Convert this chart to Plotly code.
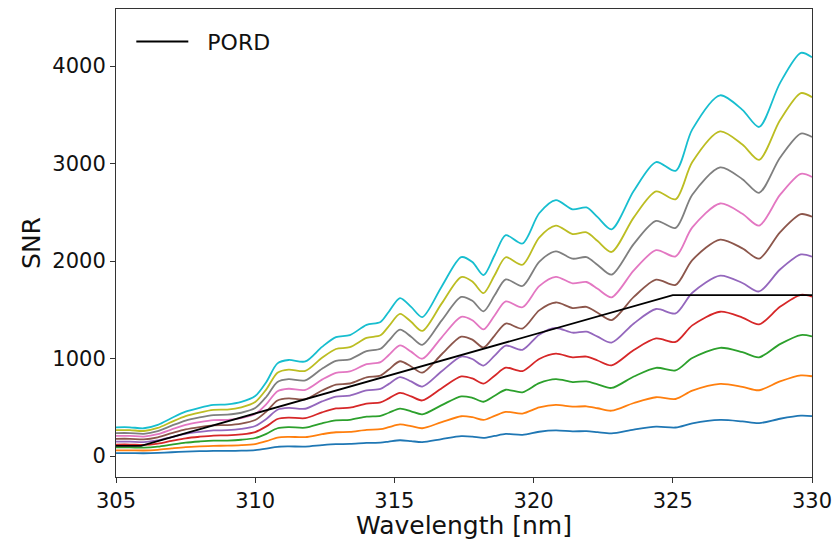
import plotly.graph_objects as go

wavelength = [305.0, 305.5, 306.0, 306.5, 307.0, 307.5, 308.0, 308.5, 309.0, 309.5,
              310.0, 310.4, 310.8, 311.2, 311.8, 312.4, 312.9, 313.4, 314.0, 314.5,
              314.8, 315.2, 315.6, 316.0, 316.7, 317.4, 317.8, 318.2, 318.6, 319.0,
              319.6, 320.2, 320.8, 321.4, 321.9, 322.3, 322.8, 323.6, 324.4, 325.1,
              325.7, 326.7, 327.5, 328.1, 328.85, 329.6, 330.0]

s1 = [29.5, 29.5, 28.5, 32, 39, 45.5, 49.5, 52.5, 53, 55.5, 61.5, 76, 95, 98.5, 97, 112, 122, 124,
      134.5, 137.5, 148, 162, 153, 142.5, 174, 204, 199, 185.5, 206, 226.5, 218, 249, 262.5, 253,
      255, 245, 232.5, 272, 301.5, 292.5, 335, 370, 355, 337.5, 382.5, 413.5, 409]
s2 = [59, 59, 57, 64, 78, 91, 99, 105, 106, 111, 123, 152, 190, 197, 194, 224, 244, 248, 269, 275,
      296, 324, 306, 285, 348, 408, 398, 371, 412, 453, 436, 498, 525, 506, 510, 490, 465, 544, 603,
      585, 670, 740, 710, 675, 765, 827, 818]
s3 = [89, 89, 86, 96, 117, 137, 149, 158, 159, 167, 185, 228, 285, 296, 291, 336, 366, 372, 404,
      413, 444, 486, 459, 428, 522, 612, 597, 557, 618, 680, 654, 747, 788, 759, 765, 735, 698, 816,
      905, 878, 1005, 1110, 1065, 1013, 1148, 1241, 1227]
s4 = [118, 118, 114, 128, 156, 182, 198, 210, 212, 222, 246, 304, 380, 394, 388, 448, 488, 496, 538,
      550, 592, 648, 612, 570, 696, 816, 796, 742, 824, 906, 872, 996, 1050, 1012, 1020, 980, 930,
      1088, 1206, 1170, 1340, 1480, 1420, 1350, 1530, 1654, 1636]
s5 = [148, 148, 143, 160, 195, 228, 248, 263, 265, 278, 308, 380, 475, 493, 485, 560, 610, 620, 673,
      688, 740, 810, 765, 713, 870, 1020, 995, 928, 1030, 1133, 1090, 1245, 1313, 1265, 1275, 1225,
      1163, 1360, 1508, 1463, 1675, 1850, 1775, 1688, 1913, 2068, 2045]
s6 = [177, 177, 171, 192, 234, 273, 297, 315, 318, 333, 369, 456, 570, 591, 582, 672, 732, 744, 807,
      825, 888, 972, 918, 855, 1044, 1224, 1194, 1113, 1236, 1359, 1308, 1494, 1575, 1518, 1530,
      1470, 1395, 1632, 1809, 1755, 2010, 2220, 2130, 2025, 2295, 2481, 2454]
s7 = [207, 207, 200, 224, 273, 319, 347, 368, 371, 389, 431, 532, 665, 690, 679, 784, 854, 868, 942,
      963, 1036, 1134, 1071, 998, 1218, 1428, 1393, 1299, 1442, 1586, 1526, 1743, 1838, 1771, 1785,
      1715, 1628, 1904, 2111, 2048, 2345, 2590, 2485, 2363, 2678, 2895, 2863]
s8 = [236, 236, 228, 256, 312, 364, 396, 420, 424, 444, 492, 608, 760, 788, 776, 896, 976, 992, 1076,
      1100, 1184, 1296, 1224, 1140, 1392, 1632, 1592, 1484, 1648, 1812, 1744, 1992, 2100, 2024, 2040,
      1960, 1860, 2176, 2412, 2340, 2680, 2960, 2840, 2700, 3060, 3308, 3272]
s9 = [266, 266, 257, 288, 351, 410, 446, 473, 477, 500, 554, 684, 855, 887, 873, 1008, 1098, 1116,
      1211, 1238, 1332, 1458, 1377, 1283, 1566, 1836, 1791, 1670, 1854, 2039, 1962, 2241, 2363, 2277,
      2295, 2205, 2093, 2448, 2714, 2633, 3015, 3330, 3195, 3038, 3443, 3722, 3681]
s10 = [295, 295, 285, 320, 390, 455, 495, 525, 530, 555, 615, 760, 950, 985, 970, 1120, 1220, 1240,
       1345, 1375, 1480, 1620, 1530, 1425, 1740, 2040, 1990, 1855, 2060, 2265, 2180, 2490, 2625, 2530,
       2550, 2450, 2325, 2720, 3015, 2925, 3350, 3700, 3550, 3375, 3825, 4135, 4090]

pord_wavelength = [305.0, 305.9, 325.0, 330.0]
pord_snr = [105, 105, 1650, 1650]

colors = ["#1f77b4", "#ff7f0e", "#2ca02c", "#d62728", "#9467bd",
          "#8c564b", "#e377c2", "#7f7f7f", "#bcbd22", "#17becf"]
series = [s1, s2, s3, s4, s5, s6, s7, s8, s9, s10]

fig = go.Figure()
for vals, c in zip(series, colors):
    fig.add_trace(go.Scatter(x=wavelength, y=vals, mode="lines",
                             line=dict(color=c, width=1.8, shape="spline", smoothing=0.8),
                             showlegend=False, hoverinfo="skip"))
fig.add_trace(go.Scatter(x=pord_wavelength, y=pord_snr, mode="lines", name="\u00a0\u00a0PORD",
                         line=dict(color="black", width=1.8)))

axis_common = dict(showline=True, linecolor="#333333", linewidth=1, mirror=True,
                   ticks="outside", ticklen=5, tickcolor="#333333", showgrid=False,
                   zeroline=False, automargin=False, tickfont=dict(size=21, color="#111111"))
fig.update_xaxes(range=[305, 330], tickvals=[305, 310, 315, 320, 325, 330],
                 ticklabeloverflow="allow",
                 title=dict(text="Wavelength [nm]", font=dict(size=25, color="#111111"), standoff=2),
                 **axis_common)
fig.update_yaxes(range=[-215, 4585], tickvals=[0, 1000, 2000, 3000, 4000],
                 title=dict(text="SNR", font=dict(size=25, color="#111111"), standoff=4),
                 **axis_common)
fig.update_layout(
    width=835, height=540,
    margin=dict(l=116, r=23, t=9, b=63),
    paper_bgcolor="white", plot_bgcolor="white",
    font=dict(family="DejaVu Sans"),
    legend=dict(x=0.022, y=0.975, xanchor="left", yanchor="top", itemwidth=52,
                font=dict(size=22, color="#111111"), bgcolor="rgba(255,255,255,0.8)",
                bordercolor="rgba(0,0,0,0)", borderwidth=0),
)
fig.write_html("out.html")
